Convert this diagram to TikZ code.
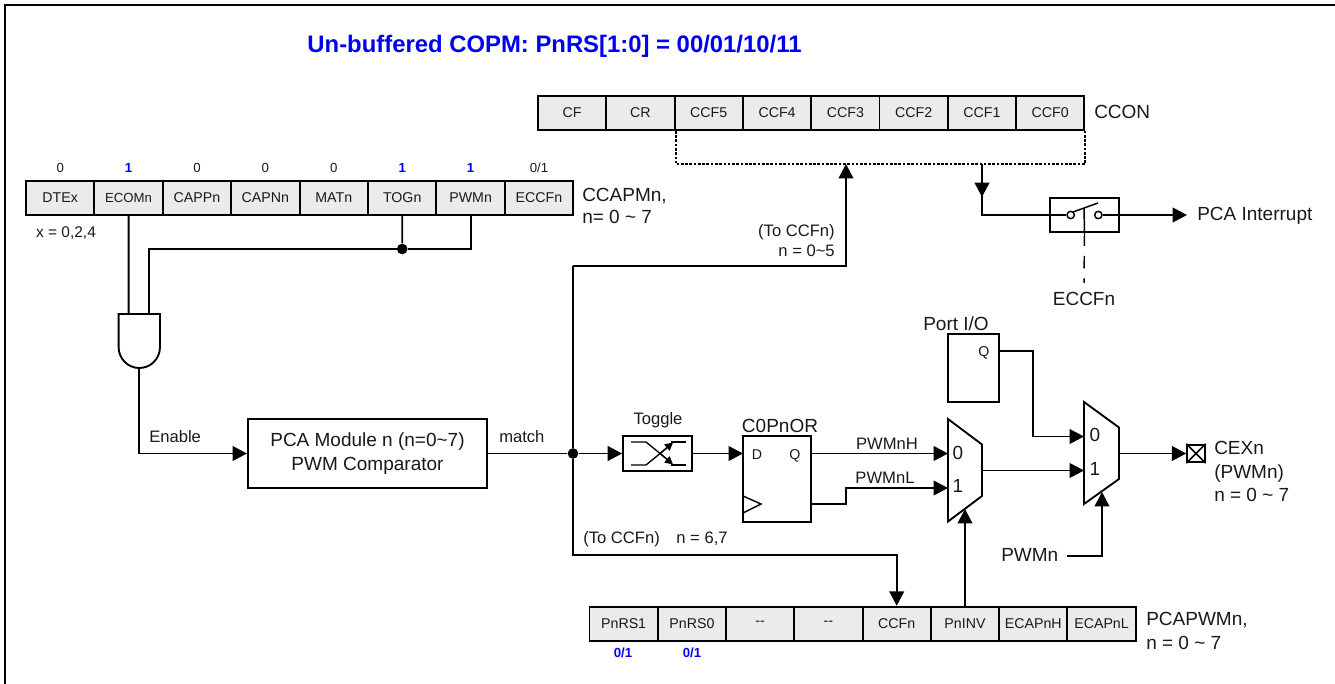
\documentclass[tikz,border=0pt]{standalone}
\usepackage{fontspec}
\setmainfont{Liberation Sans}
\usetikzlibrary{arrows.meta}
\newcommand\fsA{\fontsize{10.65pt}{12pt}\selectfont}
\newcommand\fsB{\fontsize{14.25pt}{16pt}\selectfont}
\newcommand\fsC{\fontsize{12.45pt}{14pt}\selectfont}
\newcommand\fsD{\fontsize{9.9pt}{11pt}\selectfont}
\newcommand\fsE{\fontsize{11.6pt}{13pt}\selectfont}
\definecolor{cellgray}{RGB}{235,235,235}
\definecolor{ttlblue}{RGB}{0,0,240}
\definecolor{ink}{RGB}{25,25,25}
\tikzset{
  wire/.style={line width=1.4pt,line join=miter,draw=black},
  arr/.style={wire,-{Triangle[length=10.8pt,width=11pt]}},
  cellbox/.style={draw=black,line width=1.4pt,fill=cellgray,inner sep=0pt,minimum height=25.5pt,font=\fsA,text=ink},
  cella/.style={cellbox,minimum width=51.3pt},
  cellb/.style={cellbox,minimum width=51.2pt},
  plainbox/.style={draw=black,line width=1.4pt,fill=white,inner sep=0pt},
  lab/.style={inner sep=0pt,text=ink,anchor=mid,yshift=-1.8pt},
  labw/.style={lab,anchor=mid west},
  labe/.style={lab,anchor=mid east},
  bluebit/.style={lab,font=\fsD\bfseries,text=ttlblue},
  dot/.style={circle,fill=black,inner sep=0pt,minimum size=8pt},
  ring/.style={circle,draw=black,line width=1.1pt,fill=white,inner sep=0pt,minimum size=5.5pt},
  dotted wire/.style={line width=1.5pt,dash pattern=on 2pt off 1.2pt},
  mux/.style={line width=1.4pt,draw=black,fill=white,line join=miter},
}
\begin{document}
\begin{tikzpicture}[x=0.75pt,y=-0.75pt]
\useasboundingbox (0,0) rectangle (1335,684);
\draw[line width=1.6pt] (5,684) -- (5,5) -- (1335,5);
\node[lab,font=\fontsize{17.9pt}{20pt}\selectfont\bfseries,text=ttlblue] (title) at (554.5,46.6) {Un-buffered COPM: PnRS[1:0] = 00/01/10/11};

% CCON register
\foreach \t [count=\i] in {CF,CR,CCF5,CCF4,CCF3,CCF2,CCF1,CCF0}
  \node[cellb,name=ccon\i] at ({538+68.3*(\i-0.5)},113) {\t};
\node[labw,font=\fsB] (cconlab) at (1094,113) {CCON};

% CCAPMn register
\foreach \t [count=\i] in {DTEx,{\fontsize{9.9pt}{12pt}\selectfont ECOMn},CAPPn,CAPNn,MATn,TOGn,PWMn,ECCFn}
  \node[cella,name=ccap\i] at ({26+68.4*(\i-0.5)},198) {\t};
\foreach \t [count=\i] in {0,,0,0,0,,,0/1}
  \node[lab,font=\fsD,name=capv\i] at ({26+68.4*(\i-0.5)},167) {\t};
\node[bluebit] (capb2) at (128.6,167) {1};
\node[bluebit] (capb6) at (402.2,167) {1};
\node[bluebit] (capb7) at (470.6,167) {1};
\node[labw,font=\fsB] (capl1) at (582,196) {CCAPMn,};
\node[labw,font=\fsB] (capl2) at (582,218) {n= 0 \textasciitilde{} 7};
\node[lab,font=\fsE] (xlab) at (66,232) {x = 0,2,4};

% AND gate
\coordinate (anda) at (128.6,314);
\coordinate (andb) at (149,314);
\coordinate (ando) at (139.3,368);
\draw[mux] (118.6,314) -- (160,314) -- (160,347) .. controls (160,358.6) and (150.9,368) .. (ando) .. controls (127.7,368) and (118.6,358.6) .. (118.6,347) -- cycle;
\node[dot] (j1) at (402.2,249) {};
\coordinate (bus) at (149,249);
\draw[wire] (ccap2.south) -- (anda);
\draw[wire] (andb) -- (bus) -- (j1);
\draw[wire] (ccap6.south) -- (j1);
\draw[wire] (ccap7.south) -- (ccap7.south |- j1) -- (j1);

% PCA module
\node[plainbox,minimum width=179.3pt,minimum height=51.7pt,align=center,font=\fsB,text=ink] (pca) at (367.5,453.5) {PCA Module n (n=0\textasciitilde 7)\\[1.5pt]PWM Comparator};
\coordinate (ben) at (139.3,453.5);
\draw[wire] (ando) -- (ben);
\draw[arr] (ben) -- (pca.west);
\node[labw,font=\fsC] (enlab) at (149,437) {Enable};
\node[labw,font=\fsC] (malab) at (499,437) {match};

% match junction
\node[dot] (j2) at (573,453.5) {};
\draw[wire] (pca.east) -- (j2);

% Toggle
\node[plainbox,minimum width=51.7pt,minimum height=25.7pt] (tog) at (657.5,453.5) {};
\node[lab,font=\fsC] (toglab) at (658,419) {Toggle};
\draw[arr] (j2) -- (tog.west);
\draw[line width=1pt] (631,442) -- (646,442) -- (668,460);
\draw[line width=1pt] (631,465) -- (646,465) -- (668,447);
\draw[line width=1pt,-{Triangle[length=6pt,width=6pt]}] (660,453.5) -- (673,464.5);
\draw[line width=1pt,-{Triangle[length=6pt,width=6pt]}] (660,453.5) -- (673,442.5);
\draw[line width=1pt] (671,442) -- (686,442);
\draw[line width=1pt] (671,465) -- (686,465);

% C0PnOR flip-flop
\node[plainbox,minimum width=51pt,minimum height=64.3pt] (ff) at (777,479) {};
\node[lab,font=\fsB] (fflab) at (780,427) {C0PnOR};
\node[lab,font=\fsA] (ffd) at (757,453.5) {D};
\node[lab,font=\fsA] (ffq) at (795,453.5) {Q};
\draw[line width=1.1pt] (743,496) -- (761,504) -- (743,513);
\coordinate (ffin) at (743,453.5);
\coordinate (ffqo) at (811,453.5);
\coordinate (ffno) at (811,504);
\coordinate (lbend) at (846,504);
\draw[arr] (tog.east) -- (ffin);

% mux 1
\coordinate (m1a) at (948,453.5);
\coordinate (m1b) at (948,488);
\coordinate (m1o) at (982,470.5);
\coordinate (m1s) at (965,509);
\draw[mux] (948,419) -- (982,444.5) -- (982,496) -- (948,521.5) -- cycle;
\node[lab,font=\fsB] (m1z) at (958,453.5) {0};
\node[lab,font=\fsB] (m1u) at (958,487) {1};
\draw[arr] (ffqo) -- (m1a);
\draw[arr] (ffno) -- (lbend) -- (lbend |- m1b) -- (m1b);
\node[lab,font=\fsC] (hlab) at (887,444) {PWMnH};
\node[lab,font=\fsC] (llab) at (885,478) {PWMnL};

% Port FF
\node[plainbox,minimum width=38.7pt,minimum height=51pt] (port) at (973.5,368) {};
\node[lab,font=\fsA] (portq) at (984,351) {Q};
\node[lab,font=\fsB] (portlab) at (956,325) {Port I/O};

% mux 2
\coordinate (m2a) at (1084,436.5);
\coordinate (m2b) at (1084,470.5);
\coordinate (m2o) at (1119,453.5);
\coordinate (m2s) at (1102,492);
\draw[mux] (1084,402) -- (1119,427.5) -- (1119,479) -- (1084,504) -- cycle;
\node[lab,font=\fsB] (m2z) at (1095,436) {0};
\node[lab,font=\fsB] (m2u) at (1095,470) {1};
\coordinate (portq2) at (999.5,351);
\coordinate (pbend) at (1033,351);
\draw[arr] (portq2) -- (pbend) -- (pbend |- m2a) -- (m2a);
\draw[arr] (m1o) -- (m2b);

% output pad
\node[draw=black,line width=1.6pt,fill=white,inner sep=0pt,minimum size=13pt] (pad) at (1196,453.5) {};
\draw[line width=1.1pt] (pad.north west) -- (pad.south east) (pad.north east) -- (pad.south west);
\draw[arr] (m2o) -- (pad.west);
\node[labw,font=\fsB] (cex1) at (1214,449) {CEXn};
\node[labw,font=\fsB] (cex2) at (1214,473) {(PWMn)};
\node[labw,font=\fsB] (cex3) at (1214,496) {n = 0 \textasciitilde{} 7};

% PWMn select
\node[labw,font=\fsB] (pwmlab) at (1001,556) {PWMn};
\coordinate (pwmst) at (1067,556);
\coordinate (pwmbd) at (1102,556);
\draw[arr] (pwmst) -- (pwmbd) -- (m2s);

% PCAPWMn register
\foreach \t [count=\i] in {PnRS1,PnRS0,{-{}-},{-{}-},CCFn,PnINV,ECAPnH,ECAPnL}
  \node[cellb,name=pwm\i] at ({589.5+68.27*(\i-0.5)},623.7) {\t};
\node[bluebit] (pb1) at (623,652) {0/1};
\node[bluebit] (pb2) at (692,652) {0/1};
\node[labw,font=\fsB] (pcl1) at (1146,620) {PCAPWMn,};
\node[labw,font=\fsB] (pcl2) at (1146,644) {n = 0 \textasciitilde{} 7};
\draw[arr] (pwm6.north -| m1s) -- (m1s);

% branches from match
\coordinate (upc) at (573,266);
\coordinate (upd) at (846,266);
\coordinate (dotj) at (846,164);
\draw[wire] (j2) -- (upc);
\draw[arr] (upc) -- (upd) -- (dotj);
\node[labe,font=\fsC] (t1) at (835,231) {(To CCFn)};
\node[labe,font=\fsC] (t2) at (835,251) {n = 0\textasciitilde 5};
\coordinate (dnc) at (573,555);
\draw[arr] (j2) -- (dnc) -- (dnc -| pwm5.north) -- (pwm5.north);
\node[labw,font=\fsC] (t3) at (583,538) {(To CCFn)\hspace{1em}n = 6,7};

% dotted bus
\draw[dotted wire] (ccon2.south east) -- (ccon2.south east |- dotj) -- (ccon8.south east |- dotj) -- (ccon8.south east);

% interrupt switch
\node[plainbox,minimum width=51.7pt,minimum height=25.8pt] (sw) at (1084.5,215) {};
\node[ring] (swa) at (1070.7,215) {};
\node[ring] (swb) at (1098.3,215) {};
\coordinate (dna) at (982,164);
\coordinate (dnb) at (982,215);
\coordinate (ptip) at (1187,215);
\coordinate (lev) at (1084,208);
\coordinate (ecend) at (1084,283);
\draw[arr] (dna) -- (982,197);
\draw[wire] (982,190) -- (dnb) -- (swa);
\draw[arr] (swb) -- (ptip);
\draw[line width=1.1pt] (1073,212) -- (1098,203);
\draw[line width=1.1pt] (lev) -- (sw.south);
\draw[line width=1.1pt,dash pattern=on 9.5pt off 7.5pt] (sw.south) -- (ecend);
\node[labw,font=\fsB] (pint) at (1197,215) {PCA Interrupt};
\node[lab,font=\fsB] (ecl) at (1084,300) {ECCFn};
\end{tikzpicture}
\end{document}
